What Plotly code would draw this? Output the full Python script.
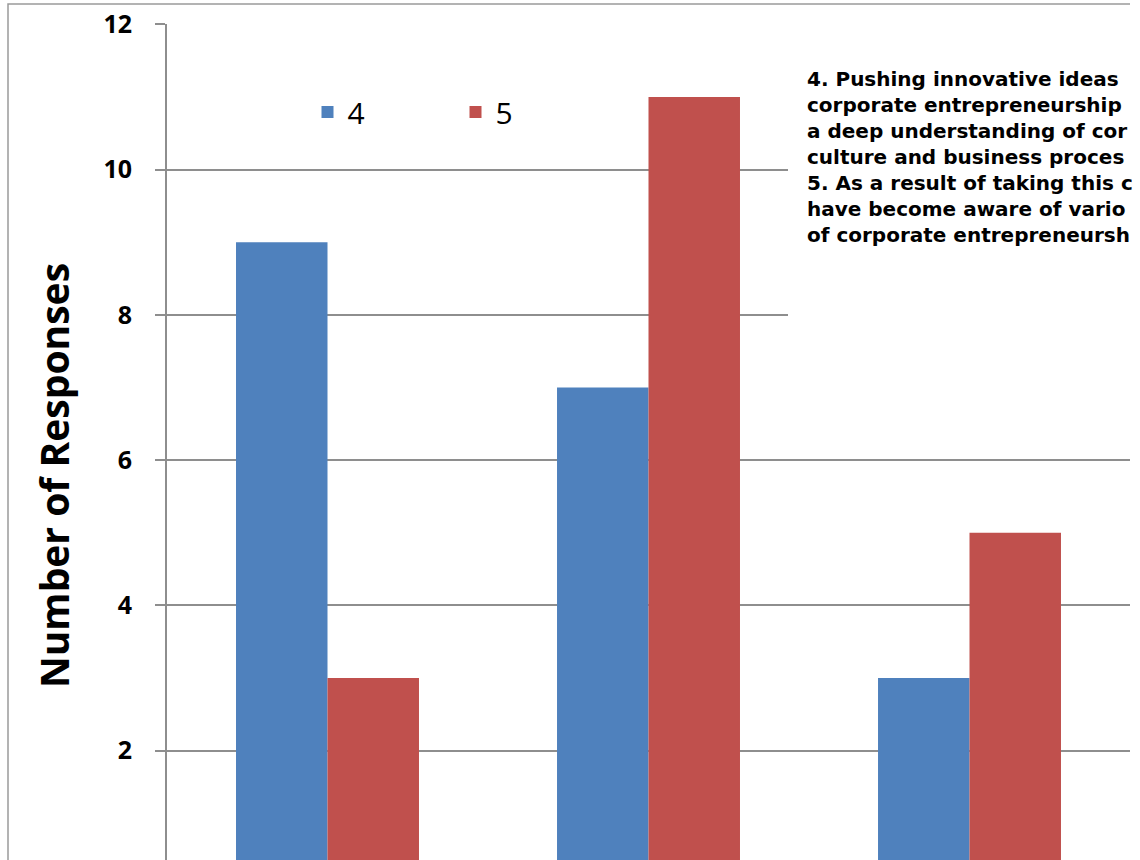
import plotly.graph_objects as go

categories = ["Neutral", "Agree", "Strongly Agree"]
q4_values = [9, 7, 3]
q5_values = [3, 11, 5]
series_names = ["4", "5"]
y_ticks = [2, 4, 6, 8, 10, 12]
# the description box is cropped at the right edge of the reference picture
note_lines = [
    "4. Pushing innovative ideas",
    "corporate entrepreneurship",
    "a deep understanding of cor",
    "culture and business proces",
    "5. As a result of taking this c",
    "have become aware of vario",
    "of corporate entrepreneursh",
]

FONT = "'Open Sans', Lato, sans-serif"
NOTE_FONT = "'DejaVu Sans', 'Open Sans', sans-serif"
BLUE = "#4F81BD"
RED = "#C0504D"
GRID = "#8E8E8E"

fig = go.Figure()
fig.add_trace(go.Bar(x=categories, y=q4_values, name=series_names[0],
                     marker=dict(color=BLUE, line=dict(width=0))))
fig.add_trace(go.Bar(x=categories, y=q5_values, name=series_names[1],
                     marker=dict(color=RED, line=dict(width=0))))

W, H = 1140, 860
ml, mr, mt, mb = 167, 10, 24, 0
pw, ph = W - ml - mr, H - mt - mb

def px_x(p):
    return (p - ml) / pw

def px_y(p):
    return (H - mb - p) / ph

fig.update_layout(
    width=W, height=H,
    margin=dict(l=ml, r=mr, t=mt, b=mb, pad=0),
    paper_bgcolor="white", plot_bgcolor="white",
    barmode="group", bargap=0.43, bargroupgap=0,
    font=dict(family=FONT, color="black"),
    showlegend=True,
    legend=dict(orientation="h", x=px_x(307.5), xanchor="left",
                y=px_y(112), yanchor="middle",
                entrywidthmode="pixels", entrywidth=103,
                font=dict(size=30, family=FONT, color="black"),
                bgcolor="rgba(0,0,0,0)", borderwidth=0),
    xaxis=dict(range=[-0.5, 2.5], showticklabels=False, ticks="",
               showgrid=False, zeroline=False, showline=False),
    yaxis=dict(range=[0.493, 12.005], tickvals=y_ticks, ticks="outside",
               ticklen=10, tickcolor=GRID, tickwidth=1.5,
               ticklabelstandoff=18,
               tickfont=dict(size=25, family=FONT, weight="bold", color="black"),
               showgrid=True, gridcolor=GRID, gridwidth=1.5,
               zeroline=False, showline=True, linecolor=GRID, linewidth=2),
)

# Y axis title
fig.add_annotation(text="<b>Number of Responses</b>", xref="paper", yref="paper",
                   x=px_x(53), y=px_y(476), xanchor="center", yanchor="middle",
                   textangle=-90, showarrow=False,
                   font=dict(size=39, family=FONT, color="black"))

# White text box covering the gridlines behind the description
fig.add_shape(type="rect", xref="paper", yref="paper",
              x0=px_x(788), x1=1.02, y0=px_y(322), y1=px_y(48),
              fillcolor="white", line=dict(width=0), layer="above")

# Description text
note_text = "<b>" + "<br>".join(note_lines) + "</b>"
fig.add_annotation(text=note_text, xref="paper", yref="paper",
                   x=px_x(806), y=px_y(66), xanchor="left", yanchor="top",
                   align="left", showarrow=False, borderpad=0,
                   font=dict(size=20, family=NOTE_FONT, color="black"))

# Outer chart border (left and top edges visible)
fig.add_shape(type="path", xref="paper", yref="paper",
              path=f"M {px_x(8)} {px_y(870)} L {px_x(8)} {px_y(4)} L {px_x(1130)} {px_y(4)}",
              line=dict(color="#9A9A9A", width=1.5), layer="above")

fig.write_html("out.html", config={"displayModeBar": False},
               post_script="document.body.style.margin='0px';")
